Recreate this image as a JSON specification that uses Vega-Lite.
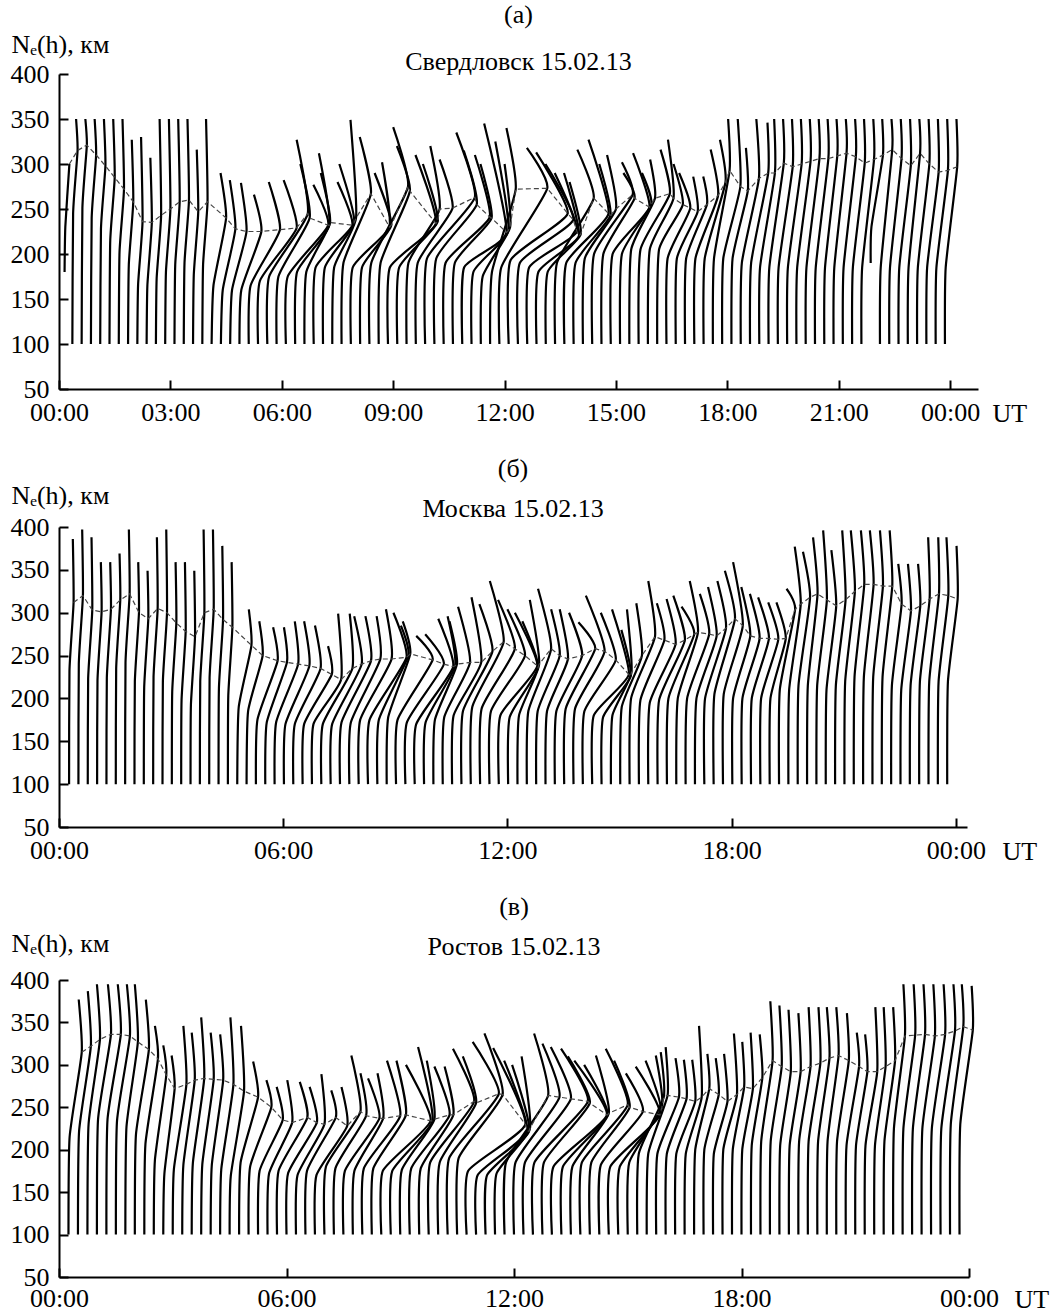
{
"$schema": "https://vega.github.io/schema/vega-lite/v6.json",
"background": "white",
"padding": {"left": 10, "top": 2, "right": 4, "bottom": 2},
"config": {
 "font": "Liberation Serif",
 "view": {"stroke": null},
 "axis": {"domainColor": "black", "domainWidth": 2, "tickColor": "black", "tickWidth": 2, "tickSize": -9, "labelFont": "Liberation Serif", "labelFontSize": 26, "labelColor": "black", "grid": false, "titleFont": "Liberation Serif", "titleFontSize": 26, "titleFontWeight": "normal", "titleColor": "black", "labelFlush": false, "labelOverlap": false},
 "title": {"font": "Liberation Serif", "fontSize": 26, "fontWeight": "normal", "color": "black", "subtitleFont": "Liberation Serif", "subtitleFontSize": 26, "subtitleColor": "black", "anchor": "middle"}
},
"datasets": {
"a": [
{"g":0,"x":[0.15,0.17,0.28],"h":[180,230,300]},
{"g":1,"x":[0.36,0.38,0.50,0.46],"h":[100,245,315,350]},
{"g":2,"x":[0.61,0.63,0.75,0.71],"h":[100,251,321,350]},
{"g":3,"x":[0.86,0.88,1.00,0.96],"h":[100,240,310,350]},
{"g":4,"x":[1.11,1.13,1.25,1.21],"h":[100,228,298,350]},
{"g":5,"x":[1.36,1.38,1.50,1.46],"h":[100,215,285,350]},
{"g":6,"x":[1.61,1.63,1.75,1.71],"h":[100,202,272,350]},
{"g":7,"x":[1.86,1.88,2.00,1.96],"h":[100,188,258,327]},
{"g":8,"x":[2.11,2.13,2.25,2.21],"h":[100,166,236,330]},
{"g":9,"x":[2.36,2.38,2.50,2.46],"h":[100,165,235,307]},
{"g":10,"x":[2.61,2.63,2.75,2.71],"h":[100,173,243,350]},
{"g":11,"x":[2.86,2.88,3.00,2.96],"h":[100,180,250,350]},
{"g":12,"x":[3.11,3.13,3.25,3.21],"h":[100,188,258,350]},
{"g":13,"x":[3.36,3.38,3.50,3.46],"h":[100,190,260,350]},
{"g":14,"x":[3.61,3.63,3.75,3.71],"h":[100,177,247,316]},
{"g":15,"x":[3.86,3.88,4.00,3.96],"h":[100,188,258,350]},
{"g":16,"x":[4.11,4.16,4.50,4.35],"h":[100,165,240,290]},
{"g":17,"x":[4.36,4.41,4.75,4.60],"h":[100,160,228,282]},
{"g":18,"x":[4.61,4.66,5.05,4.90],"h":[100,160,225,279]},
{"g":19,"x":[4.86,4.91,5.45,5.25],"h":[100,160,225,266]},
{"g":20,"x":[5.11,5.16,5.95,5.65],"h":[100,165,227,280]},
{"g":21,"x":[5.36,5.41,6.40,6.05],"h":[100,170,229,282]},
{"g":22,"x":[5.61,5.66,6.70,6.40],"h":[100,175,245,327]},
{"g":23,"x":[5.86,5.91,6.75,6.50],"h":[100,175,240,300]},
{"g":24,"x":[6.11,6.16,7.25,6.85],"h":[100,175,232,277]},
{"g":25,"x":[6.36,6.41,7.28,7.00],"h":[100,180,232,312]},
{"g":26,"x":[6.61,6.66,7.30,7.05],"h":[100,180,235,290]},
{"g":27,"x":[6.86,6.91,7.90,7.50],"h":[100,185,232,280]},
{"g":28,"x":[7.11,7.16,7.95,7.55],"h":[100,185,235,300]},
{"g":29,"x":[7.36,7.41,8.00,7.85],"h":[100,185,240,349]},
{"g":30,"x":[7.61,7.66,8.40,8.10],"h":[100,190,267,330]},
{"g":31,"x":[7.86,7.91,8.90,8.70],"h":[100,185,230,302]},
{"g":32,"x":[8.11,8.16,8.95,8.50],"h":[100,185,232,290]},
{"g":33,"x":[8.36,8.41,9.40,9.00],"h":[100,190,275,341]},
{"g":34,"x":[8.61,8.66,9.45,9.10],"h":[100,190,270,320]},
{"g":35,"x":[8.86,8.91,10.15,9.60],"h":[100,185,234,310]},
{"g":36,"x":[9.11,9.16,10.20,9.80],"h":[100,185,236,300]},
{"g":37,"x":[9.36,9.41,10.25,10.00],"h":[100,190,250,320]},
{"g":38,"x":[9.61,9.66,10.60,10.25],"h":[100,190,251,305]},
{"g":39,"x":[9.86,9.91,11.20,10.70],"h":[100,195,263,335]},
{"g":40,"x":[10.11,10.16,11.25,10.90],"h":[100,195,255,315]},
{"g":41,"x":[10.36,10.41,11.60,11.20],"h":[100,190,241,310]},
{"g":42,"x":[10.61,10.66,11.65,11.35],"h":[100,190,240,300]},
{"g":43,"x":[10.86,10.91,12.05,11.45],"h":[100,185,224,345]},
{"g":44,"x":[11.11,11.16,12.10,11.75],"h":[100,180,226,325]},
{"g":45,"x":[11.36,11.41,12.15,12.00],"h":[100,175,230,300]},
{"g":46,"x":[11.61,11.66,12.30,12.05],"h":[100,180,272,340]},
{"g":47,"x":[11.86,11.91,13.15,12.60],"h":[100,185,273,318]},
{"g":48,"x":[12.11,12.16,13.70,12.85],"h":[100,193,245,313]},
{"g":49,"x":[12.36,12.41,13.85,13.10],"h":[100,190,238,300]},
{"g":50,"x":[12.61,12.66,13.95,13.35],"h":[100,185,225,290]},
{"g":51,"x":[12.86,12.91,14.00,13.60],"h":[100,180,220,290]},
{"g":52,"x":[13.11,13.16,14.05,13.75],"h":[100,180,222,280]},
{"g":53,"x":[13.36,13.41,14.40,13.96],"h":[100,190,262,316]},
{"g":54,"x":[13.61,13.66,14.80,14.26],"h":[100,190,245,327]},
{"g":55,"x":[13.86,13.91,14.85,14.55],"h":[100,190,243,300]},
{"g":56,"x":[14.11,14.16,15.00,14.76],"h":[100,195,250,310]},
{"g":57,"x":[14.36,14.41,15.45,15.16],"h":[100,200,266,302]},
{"g":58,"x":[14.61,14.66,15.50,15.20],"h":[100,200,262,290]},
{"g":59,"x":[14.86,14.91,15.90,15.46],"h":[100,200,252,312]},
{"g":60,"x":[15.11,15.16,15.95,15.70],"h":[100,200,255,290]},
{"g":61,"x":[15.36,15.41,16.05,15.92],"h":[100,205,262,305]},
{"g":62,"x":[15.61,15.66,16.45,16.20],"h":[100,205,267,316]},
{"g":63,"x":[15.86,15.91,16.55,16.40],"h":[100,205,262,327]},
{"g":64,"x":[16.11,16.16,16.80,16.55],"h":[100,205,255,300]},
{"g":65,"x":[16.36,16.39,17.00,16.70],"h":[100,195,251,290]},
{"g":66,"x":[16.61,16.64,17.20,17.08],"h":[100,195,247,286]},
{"g":67,"x":[16.86,16.89,17.45,17.35],"h":[100,195,255,286]},
{"g":68,"x":[17.11,17.14,17.75,17.55],"h":[100,195,265,316]},
{"g":69,"x":[17.36,17.39,17.95,17.80],"h":[100,195,280,327]},
{"g":70,"x":[17.61,17.64,18.06,18.02],"h":[100,195,293,350]},
{"g":71,"x":[17.86,17.89,18.35,18.28],"h":[100,195,275,350]},
{"g":72,"x":[18.11,18.14,18.55,18.50],"h":[100,195,270,318]},
{"g":73,"x":[18.36,18.39,18.85,18.78],"h":[100,190,284,350]},
{"g":74,"x":[18.61,18.64,19.10,19.08],"h":[100,190,290,346]},
{"g":75,"x":[18.86,18.88,19.28,19.26],"h":[100,185,290,350]},
{"g":76,"x":[19.11,19.13,19.52,19.50],"h":[100,185,301,350]},
{"g":77,"x":[19.36,19.38,19.76,19.74],"h":[100,185,297,350]},
{"g":78,"x":[19.61,19.63,20.00,19.98],"h":[100,185,300,350]},
{"g":79,"x":[19.86,19.88,20.24,20.22],"h":[100,185,303,350]},
{"g":80,"x":[20.11,20.13,20.48,20.46],"h":[100,185,306,350]},
{"g":81,"x":[20.36,20.38,20.72,20.70],"h":[100,185,306,350]},
{"g":82,"x":[20.61,20.63,20.96,20.94],"h":[100,185,309,350]},
{"g":83,"x":[20.86,20.88,21.21,21.19],"h":[100,185,312,350]},
{"g":84,"x":[21.11,21.13,21.46,21.44],"h":[100,185,308,350]},
{"g":85,"x":[21.36,21.38,21.70,21.68],"h":[100,185,301,350]},
{"g":86,"x":[21.61,21.63,21.95,21.93],"h":[100,185,305,350]},
{"g":87,"x":[21.86,21.88,22.19,22.17],"h":[190,230,310,350]},
{"g":88,"x":[22.11,22.13,22.44,22.42],"h":[100,185,316,350]},
{"g":89,"x":[22.36,22.38,22.69,22.67],"h":[100,185,306,350]},
{"g":90,"x":[22.61,22.63,22.94,22.92],"h":[100,185,298,350]},
{"g":91,"x":[22.86,22.88,23.19,23.17],"h":[100,185,312,350]},
{"g":92,"x":[23.11,23.13,23.44,23.42],"h":[100,185,300,350]},
{"g":93,"x":[23.36,23.38,23.69,23.67],"h":[100,185,291,350]},
{"g":94,"x":[23.61,23.63,23.94,23.92],"h":[100,185,293,350]},
{"g":95,"x":[23.86,23.88,24.19,24.17],"h":[100,185,297,350]}
],
"b": [
{"g":1,"x":[0.27,0.28,0.39,0.37],"h":[100,232,312,386]},
{"g":2,"x":[0.52,0.53,0.64,0.62],"h":[100,240,320,397]},
{"g":3,"x":[0.77,0.78,0.89,0.87],"h":[100,223,303,388]},
{"g":4,"x":[1.02,1.03,1.14,1.12],"h":[100,221,301,359]},
{"g":5,"x":[1.27,1.28,1.39,1.37],"h":[100,224,304,359]},
{"g":6,"x":[1.52,1.53,1.64,1.62],"h":[100,235,315,369]},
{"g":7,"x":[1.77,1.78,1.89,1.87],"h":[100,242,322,397]},
{"g":8,"x":[2.02,2.03,2.14,2.12],"h":[100,220,300,359]},
{"g":9,"x":[2.27,2.28,2.39,2.37],"h":[100,213,293,349]},
{"g":10,"x":[2.52,2.53,2.64,2.62],"h":[100,225,305,388]},
{"g":11,"x":[2.77,2.78,2.89,2.87],"h":[100,220,300,397]},
{"g":12,"x":[3.02,3.03,3.14,3.12],"h":[100,208,288,359]},
{"g":13,"x":[3.27,3.28,3.39,3.37],"h":[100,198,278,359]},
{"g":14,"x":[3.52,3.53,3.64,3.62],"h":[100,192,272,349]},
{"g":15,"x":[3.77,3.78,3.89,3.87],"h":[100,220,300,397]},
{"g":16,"x":[4.02,4.03,4.14,4.12],"h":[100,224,304,397]},
{"g":17,"x":[4.27,4.28,4.39,4.37],"h":[100,212,292,378]},
{"g":18,"x":[4.52,4.53,4.64,4.62],"h":[100,203,283,359]},
{"g":19,"x":[4.77,4.81,5.15,5.08],"h":[100,190,262,304]},
{"g":20,"x":[5.02,5.06,5.45,5.36],"h":[100,185,250,290]},
{"g":21,"x":[5.27,5.31,5.85,5.73],"h":[100,175,244,283]},
{"g":22,"x":[5.52,5.56,6.10,6.02],"h":[100,172,242,283]},
{"g":23,"x":[5.77,5.81,6.40,6.31],"h":[100,172,240,290]},
{"g":24,"x":[6.02,6.06,6.70,6.56],"h":[100,170,238,290]},
{"g":25,"x":[6.27,6.31,7.00,6.85],"h":[100,170,235,285]},
{"g":26,"x":[6.52,6.56,7.30,7.20],"h":[100,170,228,261]},
{"g":27,"x":[6.77,6.81,7.55,7.47],"h":[100,170,222,299]},
{"g":28,"x":[7.02,7.06,7.85,7.78],"h":[100,170,235,299]},
{"g":29,"x":[7.27,7.31,8.10,7.90],"h":[100,170,240,296]},
{"g":30,"x":[7.52,7.56,8.35,8.20],"h":[100,172,244,296]},
{"g":31,"x":[7.77,7.81,8.60,8.50],"h":[100,172,246,296]},
{"g":32,"x":[8.02,8.06,8.90,8.75],"h":[100,175,246,304]},
{"g":33,"x":[8.27,8.31,9.30,8.95],"h":[100,175,248,300]},
{"g":34,"x":[8.52,8.56,9.35,9.15],"h":[100,175,250,285]},
{"g":35,"x":[8.77,8.81,9.40,9.20],"h":[100,178,252,290]},
{"g":36,"x":[9.02,9.06,10.00,9.56],"h":[100,175,245,273]},
{"g":37,"x":[9.27,9.31,10.30,9.80],"h":[100,172,240,275]},
{"g":38,"x":[9.52,9.56,10.55,10.15],"h":[100,170,237,293]},
{"g":39,"x":[9.77,9.81,10.60,10.40],"h":[100,172,238,296]},
{"g":40,"x":[10.02,10.06,10.65,10.45],"h":[100,175,240,290]},
{"g":41,"x":[10.27,10.31,11.00,10.68],"h":[100,178,242,307]},
{"g":42,"x":[10.52,10.56,11.30,11.04],"h":[100,180,242,318]},
{"g":43,"x":[10.77,10.81,11.60,11.25],"h":[100,185,255,310]},
{"g":44,"x":[11.02,11.06,11.90,11.53],"h":[100,190,266,337]},
{"g":45,"x":[11.27,11.31,12.20,11.75],"h":[100,188,258,315]},
{"g":46,"x":[11.52,11.56,12.47,12.00],"h":[100,185,250,304]},
{"g":47,"x":[11.77,11.81,12.80,12.20],"h":[100,180,238,300]},
{"g":48,"x":[12.02,12.06,12.82,12.40],"h":[100,178,236,290]},
{"g":49,"x":[12.27,12.31,12.85,12.60],"h":[100,180,240,315]},
{"g":50,"x":[12.52,12.56,13.17,12.82],"h":[100,185,258,328]},
{"g":51,"x":[12.77,12.81,13.40,13.17],"h":[100,185,250,304]},
{"g":52,"x":[13.02,13.06,13.62,13.40],"h":[100,185,246,304]},
{"g":53,"x":[13.27,13.31,14.00,13.65],"h":[100,185,250,300]},
{"g":54,"x":[13.52,13.56,14.35,13.90],"h":[100,188,258,289]},
{"g":55,"x":[13.77,13.81,14.60,14.10],"h":[100,188,255,320]},
{"g":56,"x":[14.02,14.06,14.90,14.50],"h":[100,185,245,300]},
{"g":57,"x":[14.27,14.31,15.25,14.80],"h":[100,180,228,304]},
{"g":58,"x":[14.52,14.56,15.30,15.05],"h":[100,178,226,280]},
{"g":59,"x":[14.77,14.81,15.32,15.20],"h":[100,180,230,304]},
{"g":60,"x":[15.02,15.06,15.60,15.45],"h":[100,190,250,311]},
{"g":61,"x":[15.27,15.31,15.95,15.77],"h":[100,200,272,337]},
{"g":62,"x":[15.52,15.56,16.20,16.00],"h":[100,198,268,311]},
{"g":63,"x":[15.77,15.81,16.50,16.26],"h":[100,195,263,316]},
{"g":64,"x":[16.02,16.06,16.75,16.44],"h":[100,198,268,320]},
{"g":65,"x":[16.27,16.31,17.00,16.66],"h":[100,200,275,307]},
{"g":66,"x":[16.52,16.56,17.10,16.88],"h":[100,200,277,337]},
{"g":67,"x":[16.77,16.81,17.40,17.15],"h":[100,200,275,322]},
{"g":68,"x":[17.02,17.06,17.60,17.37],"h":[100,200,273,330]},
{"g":69,"x":[17.27,17.29,17.85,17.62],"h":[100,200,282,337]},
{"g":70,"x":[17.52,17.54,18.09,17.82],"h":[100,205,293,349]},
{"g":71,"x":[17.77,17.79,18.30,18.04],"h":[100,205,285,359]},
{"g":72,"x":[18.02,18.04,18.50,18.26],"h":[100,200,273,330]},
{"g":73,"x":[18.27,18.29,18.75,18.49],"h":[100,200,270,322]},
{"g":74,"x":[18.52,18.54,19.00,18.71],"h":[100,200,270,318]},
{"g":75,"x":[18.77,18.79,19.25,18.98],"h":[100,200,269,312]},
{"g":76,"x":[19.02,19.04,19.45,19.20],"h":[100,200,270,312]},
{"g":77,"x":[19.27,19.29,19.70,19.47],"h":[100,210,304,328]},
{"g":78,"x":[19.52,19.54,19.85,19.69],"h":[100,210,310,377]},
{"g":79,"x":[19.77,19.79,20.10,19.91],"h":[100,215,318,371]},
{"g":80,"x":[20.02,20.04,20.30,20.18],"h":[100,215,322,388]},
{"g":81,"x":[20.27,20.29,20.55,20.45],"h":[100,215,315,396]},
{"g":82,"x":[20.52,20.54,20.80,20.67],"h":[100,210,308,373]},
{"g":83,"x":[20.77,20.79,21.05,20.96],"h":[100,215,315,396]},
{"g":84,"x":[21.02,21.04,21.30,21.19],"h":[100,220,325,396]},
{"g":85,"x":[21.27,21.29,21.55,21.46],"h":[100,225,333,396]},
{"g":86,"x":[21.52,21.54,21.80,21.70],"h":[100,225,333,396]},
{"g":87,"x":[21.77,21.79,22.05,21.97],"h":[100,225,331,396]},
{"g":88,"x":[22.02,22.04,22.30,22.23],"h":[100,225,331,396]},
{"g":89,"x":[22.27,22.29,22.55,22.46],"h":[100,215,310,357]},
{"g":90,"x":[22.52,22.54,22.80,22.72],"h":[100,210,302,357]},
{"g":91,"x":[22.77,22.79,23.05,22.99],"h":[100,215,308,357]},
{"g":92,"x":[23.02,23.04,23.30,23.26],"h":[100,220,316,388]},
{"g":93,"x":[23.27,23.29,23.55,23.53],"h":[100,220,322,388]},
{"g":94,"x":[23.52,23.54,23.80,23.75],"h":[100,220,320,388]},
{"g":95,"x":[23.77,23.79,24.05,24.02],"h":[100,220,316,378]}
],
"c": [
{"g":1,"x":[0.25,0.28,0.60,0.52],"h":[100,215,315,377]},
{"g":2,"x":[0.50,0.53,0.84,0.76],"h":[100,222,322,387]},
{"g":3,"x":[0.75,0.78,1.08,1.00],"h":[100,230,330,395]},
{"g":4,"x":[1.00,1.03,1.37,1.29],"h":[100,236,336,395]},
{"g":5,"x":[1.25,1.28,1.63,1.55],"h":[100,236,336,395]},
{"g":6,"x":[1.50,1.53,1.87,1.79],"h":[100,234,334,395]},
{"g":7,"x":[1.75,1.78,2.08,2.00],"h":[100,227,327,395]},
{"g":8,"x":[2.00,2.03,2.37,2.29],"h":[100,218,318,377]},
{"g":9,"x":[2.25,2.28,2.61,2.53],"h":[100,207,307,346]},
{"g":10,"x":[2.50,2.53,2.83,2.75],"h":[100,188,288,323]},
{"g":11,"x":[2.75,2.78,3.05,2.97],"h":[100,172,272,311]},
{"g":12,"x":[3.00,3.03,3.36,3.28],"h":[100,177,277,346]},
{"g":13,"x":[3.25,3.28,3.58,3.50],"h":[100,182,282,338]},
{"g":14,"x":[3.50,3.53,3.83,3.75],"h":[100,184,284,356]},
{"g":15,"x":[3.75,3.78,4.08,4.00],"h":[100,183,283,338]},
{"g":16,"x":[4.00,4.03,4.33,4.25],"h":[100,182,282,336]},
{"g":17,"x":[4.25,4.28,4.60,4.52],"h":[100,177,277,356]},
{"g":18,"x":[4.50,4.53,4.88,4.80],"h":[100,169,269,346]},
{"g":19,"x":[4.75,4.79,5.25,5.12],"h":[100,185,262,304]},
{"g":20,"x":[5.00,5.04,5.60,5.47],"h":[100,180,250,282]},
{"g":21,"x":[5.25,5.29,5.90,5.74],"h":[100,175,235,274]},
{"g":22,"x":[5.50,5.54,6.15,6.02],"h":[100,172,232,282]},
{"g":23,"x":[5.75,5.79,6.55,6.35],"h":[100,175,238,280]},
{"g":24,"x":[6.00,6.04,6.80,6.61],"h":[100,172,232,274]},
{"g":25,"x":[6.25,6.29,7.00,6.92],"h":[100,170,230,289]},
{"g":26,"x":[6.50,6.54,7.30,7.18],"h":[100,175,238,270]},
{"g":27,"x":[6.75,6.79,7.60,7.45],"h":[100,170,228,274]},
{"g":28,"x":[7.00,7.04,7.95,7.71],"h":[100,180,245,311]},
{"g":29,"x":[7.25,7.29,8.10,7.95],"h":[100,178,240,290]},
{"g":30,"x":[7.50,7.54,8.45,8.15],"h":[100,175,237,284]},
{"g":31,"x":[7.75,7.79,8.55,8.40],"h":[100,175,237,290]},
{"g":32,"x":[8.00,8.04,9.00,8.65],"h":[100,178,240,305]},
{"g":33,"x":[8.25,8.29,9.15,8.90],"h":[100,178,241,305]},
{"g":34,"x":[8.50,8.54,9.80,9.15],"h":[100,175,234,300]},
{"g":35,"x":[8.75,8.79,9.85,9.47],"h":[100,175,234,321]},
{"g":36,"x":[9.00,9.04,9.90,9.70],"h":[100,176,236,305]},
{"g":37,"x":[9.25,9.29,10.30,9.90],"h":[100,178,241,298]},
{"g":38,"x":[9.50,9.54,10.40,10.17],"h":[100,178,241,298]},
{"g":39,"x":[9.75,9.79,10.95,10.39],"h":[100,185,257,319]},
{"g":40,"x":[10.00,10.04,11.00,10.65],"h":[100,185,255,310]},
{"g":41,"x":[10.25,10.29,11.60,10.91],"h":[100,190,266,327]},
{"g":42,"x":[10.50,10.54,11.70,11.22],"h":[100,190,265,337]},
{"g":43,"x":[10.75,10.79,12.30,11.45],"h":[100,175,230,320]},
{"g":44,"x":[11.00,11.04,12.35,11.74],"h":[100,170,222,305]},
{"g":45,"x":[11.25,11.29,12.40,11.95],"h":[100,170,222,300]},
{"g":46,"x":[11.50,11.54,12.42,12.20],"h":[100,172,225,310]},
{"g":47,"x":[11.75,11.79,12.90,12.53],"h":[100,185,264,337]},
{"g":48,"x":[12.00,12.04,13.20,12.75],"h":[100,185,262,325]},
{"g":49,"x":[12.25,12.29,13.50,12.97],"h":[100,185,260,321]},
{"g":50,"x":[12.50,12.54,13.95,13.24],"h":[100,185,257,319]},
{"g":51,"x":[12.75,12.79,14.00,13.42],"h":[100,185,255,310]},
{"g":52,"x":[13.00,13.04,14.45,13.59],"h":[100,180,241,305]},
{"g":53,"x":[13.25,13.29,14.47,13.85],"h":[100,180,241,300]},
{"g":54,"x":[13.50,13.54,14.50,14.16],"h":[100,180,243,311]},
{"g":55,"x":[13.75,13.79,15.00,14.42],"h":[100,185,253,319]},
{"g":56,"x":[14.00,14.04,15.05,14.64],"h":[100,185,250,305]},
{"g":57,"x":[14.25,14.29,15.40,14.95],"h":[100,182,245,290]},
{"g":58,"x":[14.50,14.54,15.85,15.21],"h":[100,180,241,298]},
{"g":59,"x":[14.75,14.79,15.87,15.47],"h":[100,180,245,305]},
{"g":60,"x":[15.00,15.04,15.90,15.74],"h":[100,185,250,311]},
{"g":61,"x":[15.25,15.29,15.95,15.87],"h":[100,195,262,315]},
{"g":62,"x":[15.50,15.54,16.05,16.00],"h":[100,195,264,321]},
{"g":63,"x":[15.75,15.78,16.35,16.26],"h":[100,195,262,308]},
{"g":64,"x":[16.00,16.03,16.55,16.48],"h":[100,195,260,306]},
{"g":65,"x":[16.25,16.28,16.78,16.70],"h":[100,195,257,306]},
{"g":66,"x":[16.50,16.53,16.95,16.88],"h":[100,195,262,346]},
{"g":67,"x":[16.75,16.78,17.15,17.10],"h":[100,200,272,313]},
{"g":68,"x":[17.00,17.02,17.40,17.32],"h":[100,200,265,308]},
{"g":69,"x":[17.25,17.27,17.63,17.54],"h":[100,195,257,313]},
{"g":70,"x":[17.50,17.52,17.88,17.80],"h":[100,200,265,337]},
{"g":71,"x":[17.75,17.77,18.07,18.02],"h":[100,200,274,327]},
{"g":72,"x":[18.00,18.02,18.30,18.24],"h":[100,200,272,338]},
{"g":73,"x":[18.25,18.27,18.55,18.48],"h":[100,205,285,336]},
{"g":74,"x":[18.50,18.52,18.82,18.76],"h":[100,210,305,375]},
{"g":75,"x":[18.75,18.77,19.06,19.00],"h":[100,210,298,370]},
{"g":76,"x":[19.00,19.02,19.30,19.24],"h":[100,205,292,365]},
{"g":77,"x":[19.25,19.27,19.56,19.50],"h":[100,205,292,361]},
{"g":78,"x":[19.50,19.52,19.82,19.77],"h":[100,210,298,368]},
{"g":79,"x":[19.75,19.77,20.08,20.03],"h":[100,210,302,368]},
{"g":80,"x":[20.00,20.02,20.32,20.25],"h":[100,210,308,368]},
{"g":81,"x":[20.25,20.27,20.56,20.50],"h":[100,210,311,368]},
{"g":82,"x":[20.50,20.52,20.83,20.78],"h":[100,210,305,361]},
{"g":83,"x":[20.75,20.77,21.10,21.04],"h":[100,205,298,338]},
{"g":84,"x":[21.00,21.02,21.32,21.26],"h":[100,205,292,336]},
{"g":85,"x":[21.25,21.27,21.58,21.53],"h":[100,205,292,368]},
{"g":86,"x":[21.50,21.52,21.80,21.75],"h":[100,205,298,368]},
{"g":87,"x":[21.75,21.77,22.05,22.00],"h":[100,210,305,368]},
{"g":88,"x":[22.00,22.02,22.31,22.27],"h":[100,225,334,395]},
{"g":89,"x":[22.25,22.27,22.58,22.54],"h":[100,225,335,395]},
{"g":90,"x":[22.50,22.52,22.84,22.80],"h":[100,225,336,395]},
{"g":91,"x":[22.75,22.77,23.10,23.06],"h":[100,225,334,395]},
{"g":92,"x":[23.00,23.02,23.37,23.33],"h":[100,225,336,395]},
{"g":93,"x":[23.25,23.27,23.63,23.59],"h":[100,225,340,395]},
{"g":94,"x":[23.50,23.52,23.85,23.81],"h":[100,230,345,395]},
{"g":95,"x":[23.75,23.77,24.10,24.07],"h":[100,230,341,393]}
]
},
"spacing": 30,
"vconcat": [
{
 "width": 919, "height": 315,
 "title": {"text": "(а)", "subtitle": "Свердловск 15.02.13", "subtitlePadding": 21, "offset": -44},
 "data": {"name": "a"},
 "transform": [{"flatten": ["x", "h"]}],
 "layer": [
  {"mark": {"type": "line", "color": "black", "strokeWidth": 2.2, "interpolate": "cardinal", "tension": 0.5},
   "encoding": {
    "x": {"field": "x", "type": "quantitative", "scale": {"domain": [0, 24.75], "nice": false, "zero": false},
          "axis": {"values": [0, 3, 6, 9, 12, 15, 18, 21, 24], "labelExpr": "(datum.value % 24 < 10 ? '0' : '') + (datum.value % 24) + ':00'", "labelPadding": 19, "title": "UT", "titleX": 933, "titleY": 24, "titleAlign": "left", "titleBaseline": "middle"}},
    "y": {"field": "h", "type": "quantitative", "scale": {"domain": [50, 400], "nice": false, "zero": false},
          "axis": {"values": [50, 100, 150, 200, 250, 300, 350, 400], "labelPadding": 19, "title": "Nₑ(h), км", "titleAngle": 0, "titleAlign": "left", "titleBaseline": "middle", "titleX": -48, "titleY": -30}},
    "detail": {"field": "g", "type": "nominal"},
    "order": {"field": "h", "type": "quantitative"}
   }},
  {"transform": [{"aggregate": [{"op": "argmax", "field": "x", "as": "pk"}], "groupby": ["g"]}],
   "mark": {"type": "line", "color": "#444444", "strokeWidth": 1.2, "strokeDash": [5, 3]},
   "encoding": {
    "x": {"field": "pk.x", "type": "quantitative"},
    "y": {"field": "pk.h", "type": "quantitative"},
    "order": {"field": "g", "type": "quantitative"}
   }}
 ]
},
{
 "width": 908, "height": 300,
 "title": {"text": "(б)", "subtitle": "Москва 15.02.13", "subtitlePadding": 14, "offset": -40},
 "data": {"name": "b"},
 "transform": [{"flatten": ["x", "h"]}],
 "layer": [
  {"mark": {"type": "line", "color": "black", "strokeWidth": 2.2, "interpolate": "cardinal", "tension": 0.5},
   "encoding": {
    "x": {"field": "x", "type": "quantitative", "scale": {"domain": [0, 24.3], "nice": false, "zero": false},
          "axis": {"values": [0, 6, 12, 18, 24], "labelExpr": "(datum.value % 24 < 10 ? '0' : '') + (datum.value % 24) + ':00'", "labelPadding": 19, "title": "UT", "titleX": 943, "titleY": 24, "titleAlign": "left", "titleBaseline": "middle"}},
    "y": {"field": "h", "type": "quantitative", "scale": {"domain": [50, 400], "nice": false, "zero": false},
          "axis": {"values": [50, 100, 150, 200, 250, 300, 350, 400], "labelPadding": 19, "title": "Nₑ(h), км", "titleAngle": 0, "titleAlign": "left", "titleBaseline": "middle", "titleX": -48, "titleY": -32}},
    "detail": {"field": "g", "type": "nominal"},
    "order": {"field": "h", "type": "quantitative"}
   }},
  {"transform": [{"aggregate": [{"op": "argmax", "field": "x", "as": "pk"}], "groupby": ["g"]}],
   "mark": {"type": "line", "color": "#444444", "strokeWidth": 1.2, "strokeDash": [5, 3]},
   "encoding": {
    "x": {"field": "pk.x", "type": "quantitative"},
    "y": {"field": "pk.h", "type": "quantitative"},
    "order": {"field": "g", "type": "quantitative"}
   }}
 ]
},
{
 "width": 910, "height": 297,
 "title": {"text": "(в)", "subtitle": "Ростов 15.02.13", "subtitlePadding": 14, "offset": -30},
 "data": {"name": "c"},
 "transform": [{"flatten": ["x", "h"]}],
 "layer": [
  {"mark": {"type": "line", "color": "black", "strokeWidth": 2.2, "interpolate": "cardinal", "tension": 0.5},
   "encoding": {
    "x": {"field": "x", "type": "quantitative", "scale": {"domain": [0, 24], "nice": false, "zero": false},
          "axis": {"values": [0, 6, 12, 18, 24], "labelExpr": "(datum.value % 24 < 10 ? '0' : '') + (datum.value % 24) + ':00'", "labelPadding": 17, "title": "UT", "titleX": 955, "titleY": 22, "titleAlign": "left", "titleBaseline": "middle"}},
    "y": {"field": "h", "type": "quantitative", "scale": {"domain": [50, 400], "nice": false, "zero": false},
          "axis": {"values": [50, 100, 150, 200, 250, 300, 350, 400], "labelPadding": 19, "title": "Nₑ(h), км", "titleAngle": 0, "titleAlign": "left", "titleBaseline": "middle", "titleX": -48, "titleY": -37}},
    "detail": {"field": "g", "type": "nominal"},
    "order": {"field": "h", "type": "quantitative"}
   }},
  {"transform": [{"aggregate": [{"op": "argmax", "field": "x", "as": "pk"}], "groupby": ["g"]}],
   "mark": {"type": "line", "color": "#444444", "strokeWidth": 1.2, "strokeDash": [5, 3]},
   "encoding": {
    "x": {"field": "pk.x", "type": "quantitative"},
    "y": {"field": "pk.h", "type": "quantitative"},
    "order": {"field": "g", "type": "quantitative"}
   }}
 ]
}
]
}
